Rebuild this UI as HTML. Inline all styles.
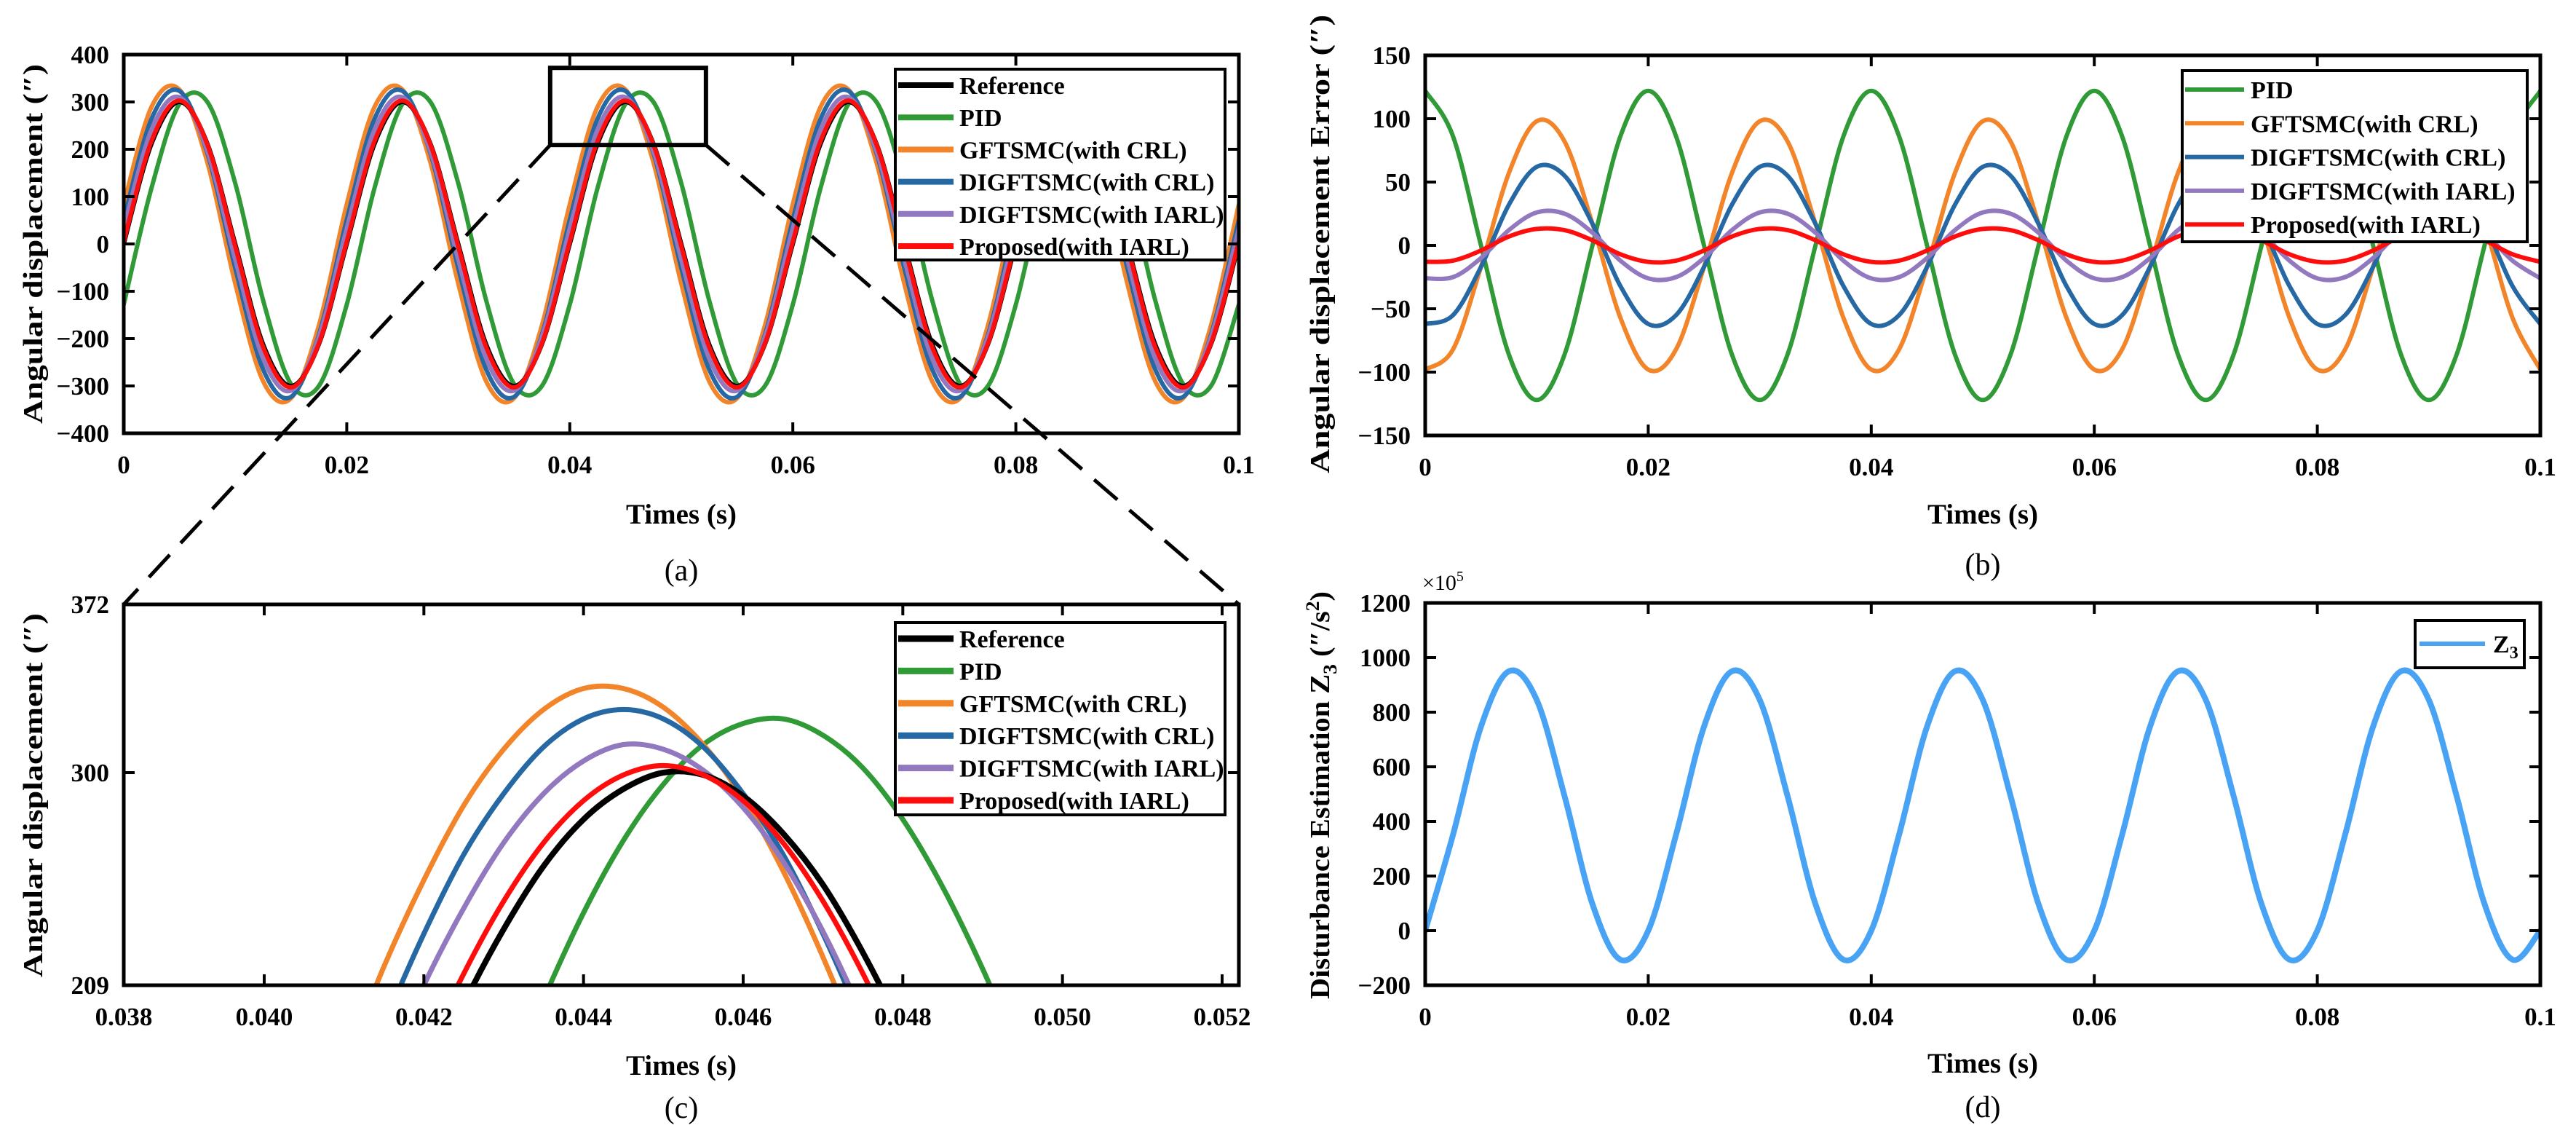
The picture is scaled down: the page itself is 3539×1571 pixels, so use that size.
<!DOCTYPE html>
<html><head><meta charset="utf-8"><style>
html,body{margin:0;padding:0;background:#fff;width:3539px;height:1571px;overflow:hidden}
svg{display:block}
text{font-family:"Liberation Serif",serif}
</style></head><body>
<svg id="fig" width="3539" height="1571" viewBox="0 0 3539 1571" xmlns="http://www.w3.org/2000/svg"></svg>
<script>
// ---- Panel (a) data: time step 0.0025 s ----
const tA = [0,0.0025,0.005,0.0075,0.01,0.0125,0.015,0.0175,0.02,0.0225,0.025,0.0275,0.03,0.0325,0.035,0.0375,0.04,0.0425,0.045,0.0475,0.05,0.0525,0.055,0.0575,0.06,0.0625,0.065,0.0675,0.07,0.0725,0.075,0.0775,0.08,0.0825,0.085,0.0875,0.09,0.0925,0.095,0.0975,0.1];
const aRef = [0,212,300,212,0,-212,-300,-212,0,212,300,212,0,-212,-300,-212,0,212,300,212,0,-212,-300,-212,0,212,300,212,0,-212,-300,-212,0,212,300,212,0,-212,-300,-212,0];
const aPID = [-128,119,296,300,128,-119,-296,-300,-128,119,296,300,128,-119,-296,-300,-128,119,296,300,128,-119,-296,-300,-128,119,296,300,128,-119,-296,-300,-128,119,296,300,128,-119,-296,-300,-128];
const aGF = [84,290,326,172,-84,-290,-326,-172,84,290,326,172,-84,-290,-326,-172,84,290,326,172,-84,-290,-326,-172,84,290,326,172,-84,-290,-326,-172,84,290,326,172,-84,-290,-326,-172,84];
const aDIC = [51,265,323,192,-51,-265,-323,-192,51,265,323,192,-51,-265,-323,-192,51,265,323,192,-51,-265,-323,-192,51,265,323,192,-51,-265,-323,-192,51,265,323,192,-51,-265,-323,-192,51];
const aDII = [33,242,310,196,-33,-242,-310,-196,33,242,310,196,-33,-242,-310,-196,33,242,310,196,-33,-242,-310,-196,33,242,310,196,-33,-242,-310,-196,33,242,310,196,-33,-242,-310,-196,33];
const aProp = [5,218,303,210,-5,-218,-303,-210,5,218,303,210,-5,-218,-303,-210,5,218,303,210,-5,-218,-303,-210,5,218,303,210,-5,-218,-303,-210,5,218,303,210,-5,-218,-303,-210,5];
const aYTicks = [-400,-300,-200,-100,0,100,200,300,400];
const xTicks = [0,0.02,0.04,0.06,0.08,0.1];
const xTickLabels = ["0","0.02","0.04","0.06","0.08","0.1"];
// ---- Panel (b) data ----
const bPID = [122,86,0,-86,-122,-86,0,86,122,86,0,-86,-122,-86,0,86,122,86,0,-86,-122,-86,0,86,122,86,0,-86,-122,-86,0,86,122,86,0,-86,-122,-86,0,86,122];
const bGF = [-98,-82,-17,57,98,82,17,-57,-98,-82,-17,57,98,82,17,-57,-98,-82,-17,57,98,82,17,-57,-98,-82,-17,57,98,82,17,-57,-98,-82,-17,57,98,82,17,-57,-98];
const bDIC = [-62,-55,-17,32,62,55,17,-32,-62,-55,-17,32,62,55,17,-32,-62,-55,-17,32,62,55,17,-32,-62,-55,-17,32,62,55,17,-32,-62,-55,-17,32,62,55,17,-32,-62];
const bDII = [-26,-25,-10,12,26,25,10,-12,-26,-25,-10,12,26,25,10,-12,-26,-25,-10,12,26,25,10,-12,-26,-25,-10,12,26,25,10,-12,-26,-25,-10,12,26,25,10,-12,-26];
const bProp = [-13,-12,-4,7,13,12,4,-7,-13,-12,-4,7,13,12,4,-7,-13,-12,-4,7,13,12,4,-7,-13,-12,-4,7,13,12,4,-7,-13,-12,-4,7,13,12,4,-7,-13];
const bYTicks = [-150,-100,-50,0,50,100,150];
// ---- Panel (c) data (zoom) ----
const tC = [0.041,0.0415,0.042,0.0425,0.043,0.0435,0.044,0.0445,0.045,0.0455,0.046,0.0465,0.047,0.0475,0.048,0.0485,0.049,0.0495];
const cRef = [78,122,164,201,233,260,280,293,300,299,290,274,252,223,189,150,107,62];
const cPID = [-34,17,67,116,162,203,240,271,295,312,321,323,316,302,280,251,216,176];
const cGF = [174,217,254,286,310,327,336,336,328,312,289,258,221,179,132,82,29,-24];
const cDIC = [148,192,231,265,291,311,323,327,323,311,291,265,231,192,148,101,51,0];
const cDII = [127,170,209,242,270,291,305,312,310,301,285,262,232,196,156,112,65,16];
const cProp = [94,138,178,214,245,270,288,299,303,299,288,270,245,214,178,138,94,47];
const cXTicks = [0.03824,0.040,0.042,0.044,0.046,0.048,0.050,0.052];
const cXTickLabels = ["0.038","0.040","0.042","0.044","0.046","0.048","0.050","0.052"];
const cYTicks = [209,300,372];
// ---- Panel (d) data ----
const dZ3 = [0,352,747,950,845,492,97,-106,0,352,747,950,845,492,97,-106,0,352,747,950,845,492,97,-106,0,352,747,950,845,492,97,-106,0,352,747,950,845,492,97,-106,0];
const dYTicks = [-200,0,200,400,600,800,1000,1200];

const NS = "http://www.w3.org/2000/svg";
const svg = document.getElementById('fig');
const C_BLACK="#000", C_GREEN="#2f9a36", C_ORANGE="#f2842a", C_BLUE="#2668a4", C_PURPLE="#9278bf", C_RED="#ff0d0d", C_Z3="#48a3f5";

function mk(tag, attrs, parent){
  const e=document.createElementNS(NS,tag);
  for(const k in attrs) e.setAttribute(k,attrs[k]);
  (parent||svg).appendChild(e);
  return e;
}
function scale(d0,d1,r0,r1){return v=>r0+(v-d0)/(d1-d0)*(r1-r0);}
function crPath(xs,ys){
  let d="M"+xs[0].toFixed(1)+","+ys[0].toFixed(1);
  for(let i=0;i<xs.length-1;i++){
    const x0=xs[Math.max(i-1,0)],y0=ys[Math.max(i-1,0)];
    const x1=xs[i],y1=ys[i],x2=xs[i+1],y2=ys[i+1];
    const x3=xs[Math.min(i+2,xs.length-1)],y3=ys[Math.min(i+2,xs.length-1)];
    const c1x=x1+(x2-x0)/6,c1y=y1+(y2-y0)/6,c2x=x2-(x3-x1)/6,c2y=y2-(y3-y1)/6;
    d+=" C"+c1x.toFixed(1)+","+c1y.toFixed(1)+" "+c2x.toFixed(1)+","+c2y.toFixed(1)+" "+x2.toFixed(1)+","+y2.toFixed(1);
  }
  return d;
}

function panel(P){
  const g=mk('g',{});
  
  
  const sx=scale(P.xd[0],P.xd[1],P.x0,P.x1), sy=scale(P.yd[0],P.yd[1],P.y1,P.y0);
  const cid='clip-'+P.name;
  const cp=mk('clipPath',{id:cid},g); mk('rect',{x:P.x0,y:P.y0,width:P.x1-P.x0,height:P.y1-P.y0},cp);
  const sg=mk('g',{'clip-path':'url(#'+cid+')'},g);
  P.series.forEach(s=>{
    const p=mk('path',{d:crPath(s.t.map(sx),s.v.map(sy)),fill:'none',stroke:s.c,'stroke-width':s.w,'stroke-linejoin':'round','stroke-linecap':'round'},sg);
    
    
  });
  const fr=mk('rect',{x:P.x0,y:P.y0,width:P.x1-P.x0,height:P.y1-P.y0,fill:'none',stroke:'#000','stroke-width':5},g);
  
  
  P.xt.forEach((v,i)=>{
    const x=sx(v);
    mk('line',{x1:x,y1:P.y1,x2:x,y2:P.y1-15,stroke:'#000','stroke-width':4},g);
    mk('line',{x1:x,y1:P.y0,x2:x,y2:P.y0+15,stroke:'#000','stroke-width':4},g);
    const t=mk('text',{x:x,y:P.y1+55,'font-size':35,'font-weight':'bold','text-anchor':'middle'},g);
    t.textContent=P.xl[i];
    
    
  });
  P.yt.forEach(v=>{
    const y=sy(v);
    mk('line',{x1:P.x0,y1:y,x2:P.x0+15,y2:y,stroke:'#000','stroke-width':4},g);
    mk('line',{x1:P.x1,y1:y,x2:P.x1-15,y2:y,stroke:'#000','stroke-width':4},g);
    const t=mk('text',{x:P.x0-20,y:y+12,'font-size':35,'font-weight':'bold','text-anchor':'end'},g);
    t.textContent=(v<0?"\u2212"+(-v):String(v));
    
    
  });
  const xt=mk('text',{x:(P.x0+P.x1)/2,y:P.xtY,'font-size':39,'font-weight':'bold','text-anchor':'middle'},g);
  xt.textContent="Times (s)";
  
  
  const cap=mk('text',{x:(P.x0+P.x1)/2,y:P.capY,'font-size':42,'text-anchor':'middle'},g);
  cap.textContent=P.cap;
  
  
  const yt=mk('text',{x:0,y:0,'font-size':38,'font-weight':'bold','text-anchor':'middle',textLength:P.ylLen,lengthAdjust:'spacingAndGlyphs',transform:'translate('+P.ylX+','+P.ylY+') rotate(-90)'},g);
  yt.innerHTML=P.yl;
  
  
  if(P.leg){
    const L=P.leg;
    const lg=mk('g',{},g);
    
    
    mk('rect',{x:L.x,y:L.y,width:L.w,height:L.h,fill:'#fff',stroke:'#000','stroke-width':4},lg);
    L.items.forEach((it,i)=>{
      const y=L.r0+i*L.dy;
      const e=mk('g',{},lg);
      
      
      mk('line',{x1:L.lx0,y1:y,x2:L.lx1,y2:y,stroke:it.c,'stroke-width':it.w},e);
      const t=mk('text',{x:L.tx,y:y+12,'font-size':L.fs,'font-weight':'bold'},e);
      t.innerHTML=it.label;
    });
  }
  return {sx,sy};
}

const legAitems=[{label:"Reference",c:C_BLACK,w:8},{label:"PID",c:C_GREEN,w:8},{label:"GFTSMC(with CRL)",c:C_ORANGE,w:8},{label:"DIGFTSMC(with CRL)",c:C_BLUE,w:8},{label:"DIGFTSMC(with IARL)",c:C_PURPLE,w:8},{label:"Proposed(with IARL)",c:C_RED,w:8}];

const A=panel({name:'panel-a',x0:170,x1:1702,y0:75,y1:595,xd:[0,0.1],yd:[-400,400],xt:xTicks,xl:xTickLabels,yt:aYTicks,
  xtY:719,capY:797,cap:"(a)",yl:"Angular displacement (\u2033)",ylX:58,ylY:335,ylLen:494,
  series:[{id:'pid',t:tA,v:aPID,c:C_GREEN,w:6},{id:'gftsmc-crl',t:tA,v:aGF,c:C_ORANGE,w:6},{id:'digftsmc-crl',t:tA,v:aDIC,c:C_BLUE,w:6},{id:'digftsmc-iarl',t:tA,v:aDII,c:C_PURPLE,w:6},{id:'reference',t:tA,v:aRef,c:C_BLACK,w:6},{id:'proposed-iarl',t:tA,v:aProp,c:C_RED,w:6}],
  leg:{x:1230,y:95,w:453,h:262,r0:117,dy:44.2,lx0:1234,lx1:1310,tx:1318,fs:34,items:legAitems}});

const B=panel({name:'panel-b',x0:1958,x1:3490,y0:76,y1:598,xd:[0,0.1],yd:[-150,150],xt:xTicks,xl:xTickLabels,yt:bYTicks,
  xtY:719,capY:789,cap:"(b)",yl:"Angular displacement Error (\u2033)",ylX:1826,ylY:335,ylLen:630,
  series:[{id:'pid',t:tA,v:bPID,c:C_GREEN,w:6},{id:'gftsmc-crl',t:tA,v:bGF,c:C_ORANGE,w:6},{id:'digftsmc-crl',t:tA,v:bDIC,c:C_BLUE,w:6},{id:'digftsmc-iarl',t:tA,v:bDII,c:C_PURPLE,w:6},{id:'proposed-iarl',t:tA,v:bProp,c:C_RED,w:6}],
  leg:{x:2998,y:97,w:474,h:235,r0:123,dy:46.3,lx0:3002,lx1:3083,tx:3092,fs:34,items:legAitems.slice(1).map(o=>Object.assign({},o,{w:6}))}});

const Cc=panel({name:'panel-c',x0:170,x1:1702,y0:830,y1:1353,xd:[0.03824,0.05221],yd:[209,372],xt:cXTicks,xl:cXTickLabels,yt:cYTicks,
  xtY:1476,capY:1535,cap:"(c)",yl:"Angular displacement (\u2033)",ylX:58,ylY:1092,ylLen:500,
  series:[{id:'pid',t:tC,v:cPID,c:C_GREEN,w:7},{id:'gftsmc-crl',t:tC,v:cGF,c:C_ORANGE,w:7},{id:'digftsmc-crl',t:tC,v:cDIC,c:C_BLUE,w:7},{id:'digftsmc-iarl',t:tC,v:cDII,c:C_PURPLE,w:7},{id:'reference',t:tC,v:cRef,c:C_BLACK,w:8},{id:'proposed-iarl',t:tC,v:cProp,c:C_RED,w:7}],
  leg:{x:1230,y:855,w:453,h:264,r0:877,dy:44.4,lx0:1234,lx1:1310,tx:1318,fs:34,items:legAitems.map(o=>Object.assign({},o,{w:9}))}});

const D=panel({name:'panel-d',x0:1958,x1:3490,y0:828,y1:1353,xd:[0,0.1],yd:[-200,1200],xt:xTicks,xl:xTickLabels,yt:dYTicks,
  xtY:1473,capY:1534,cap:"(d)",yl:"Disturbance Estimation Z<tspan font-size='26' dy='10'>3</tspan><tspan dy='-10'> (\u2033/s</tspan><tspan font-size='26' dy='-14'>2</tspan><tspan dy='14'>)</tspan>",ylX:1826,ylY:1092,ylLen:560,
  series:[{id:'z3',t:tA,v:dZ3,c:C_Z3,w:8}],
  leg:{x:3318,y:852,w:150,h:65,r0:884,dy:0,lx0:3324,lx1:3414,tx:3425,fs:34,items:[{label:"Z<tspan font-size='24' dy='8'>3</tspan>",c:C_Z3,w:6}]}});

const mult=mk('text',{x:1954,y:810,'font-size':30});
mult.innerHTML="\u00d710<tspan font-size='20' dy='-12'>5</tspan>";



const zx0=A.sx(cXTicks[0]), zx1=A.sx(0.05221), zy0=A.sy(372), zy1=A.sy(209);
const zb=mk('rect',{x:zx0,y:zy0,width:zx1-zx0,height:zy1-zy0,fill:'none',stroke:'#000','stroke-width':6});


const dl1=mk('line',{x1:zx0,y1:zy1,x2:170,y2:830,stroke:'#000','stroke-width':5,'stroke-dasharray':'42 22'});


const dl2=mk('line',{x1:zx1,y1:zy1,x2:1702,y2:830,stroke:'#000','stroke-width':5,'stroke-dasharray':'42 22'});


</script>
</body></html>
